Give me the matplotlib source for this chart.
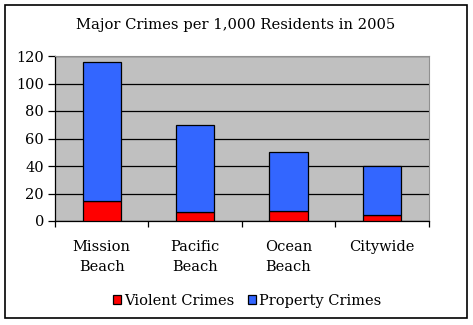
import matplotlib
matplotlib.use("Agg")
import matplotlib.pyplot as plt
from matplotlib.patches import Rectangle
import numpy as np

categories = ["Mission\nBeach", "Pacific\nBeach", "Ocean\nBeach", "Citywide"]
violent = [14.5, 6.5, 7, 4.5]
property_crimes = [101.5, 63.5, 43.5, 35.5]
y_ticks = [0, 20, 40, 60, 80, 100, 120]

plt.rcParams["font.family"] = ["DejaVu Serif"]

fig = plt.figure(figsize=(4.73, 3.25), dpi=100)
W, H = 473, 325
ax = fig.add_axes([55 / W, 1 - 221 / H, (428.5 - 55) / W, (221 - 56) / H])
ax.set_facecolor("#C0C0C0")

x = np.arange(len(categories))
ax.bar(x, violent, width=0.41, color="#FF0000", edgecolor="black", linewidth=0.9,
       label="Violent Crimes", zorder=3)
ax.bar(x, property_crimes, bottom=violent, width=0.41, color="#3366FF",
       edgecolor="black", linewidth=0.9, label="Property Crimes", zorder=3)

ax.set_xlim(-0.5, len(categories) - 0.5)
ax.set_ylim(0, 120)
ax.set_yticks(y_ticks)
ax.yaxis.grid(True, color="black", linewidth=0.9, zorder=1)
ax.tick_params(axis="y", labelsize=10.5, length=5, width=0.9, pad=3)
ax.set_xticks(np.arange(len(categories) + 1) - 0.5)
ax.set_xticklabels([])
ax.tick_params(axis="x", length=4, width=0.9)
for i, c in enumerate(categories):
    ax.text(i, -13.5, c, ha="center", va="top", fontsize=10.5, linespacing=1.55)

for s in ["top", "right"]:
    ax.spines[s].set_color("#909090")
    ax.spines[s].set_linewidth(0.8)
for s in ["left", "bottom"]:
    ax.spines[s].set_color("black")
    ax.spines[s].set_linewidth(0.9)

fig.text(236 / W, 1 - 25 / H, "Major Crimes per 1,000 Residents in 2005",
         ha="center", va="center", fontsize=10.6)

fig.legend(loc="center", bbox_to_anchor=(247 / W, 1 - 301 / H), ncol=2,
           frameon=False, fontsize=10.5, handlelength=0.55, handleheight=0.55,
           handletextpad=0.25, columnspacing=0.9, borderaxespad=0)

fig.patches.append(Rectangle((5 / W, 1 - 318 / H), 462 / W, 313 / H,
                             transform=fig.transFigure, fill=False,
                             edgecolor="black", linewidth=1.2))

fig.savefig("out.png", dpi=100)
